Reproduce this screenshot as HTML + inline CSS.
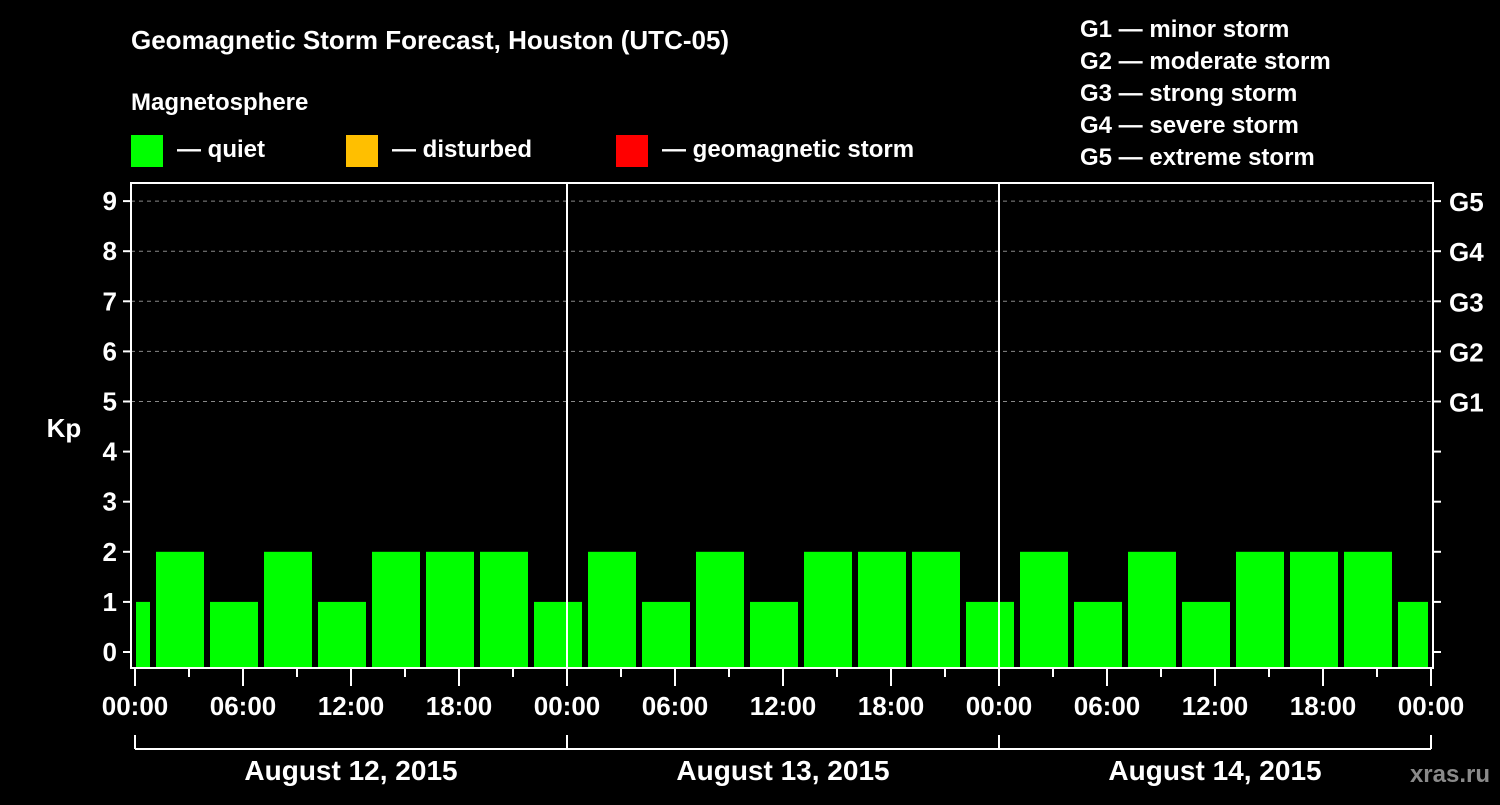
<!DOCTYPE html>
<html><head><meta charset="utf-8"><style>
body{margin:0;background:#000;width:1500px;height:800px;overflow:hidden}
svg text{font-family:"Liberation Sans",Arial,sans-serif;font-weight:bold;fill:#fff}
</style></head><body>
<svg id="c" width="1500" height="800" xmlns="http://www.w3.org/2000/svg">
<text x="131" y="49" font-size="26">Geomagnetic Storm Forecast, Houston (UTC-05)</text>
<text x="131" y="110" font-size="24">Magnetosphere</text>
<rect x="131" y="135" width="32" height="32" fill="#00ff00"/>
<text x="177" y="157" font-size="24">— quiet</text>
<rect x="346" y="135" width="32" height="32" fill="#ffbf00"/>
<text x="392" y="157" font-size="24">— disturbed</text>
<rect x="616" y="135" width="32" height="32" fill="#ff0000"/>
<text x="662" y="157" font-size="24">— geomagnetic storm</text>
<g font-size="24">
<text x="1080" y="37">G1 — minor storm</text>
<text x="1080" y="69">G2 — moderate storm</text>
<text x="1080" y="101">G3 — strong storm</text>
<text x="1080" y="133">G4 — severe storm</text>
<text x="1080" y="165">G5 — extreme storm</text>
</g>
<text x="64" y="437" font-size="26" text-anchor="middle">Kp</text>
<text x="1490" y="782" font-size="24" text-anchor="end" fill="#888" style="fill:#8a8a8a">xras.ru</text>
<g id="g"></g>
</svg>
<script>
const kpValues=[1,2,1,2,1,2,2,2,1,2,1,2,1,2,2,2,1,2,1,2,1,2,2,2,1];
const binStartHours=[-2,1,4,7,10,13,16,19,22,25,28,31,34,37,40,43,46,49,52,55,58,61,64,67,70];
const dayLabels=["August 12, 2015","August 13, 2015","August 14, 2015"];
const hourLabels=["00:00","06:00","12:00","18:00"];
const gLabels=["G1","G2","G3","G4","G5"];
const NS="http://www.w3.org/2000/svg";
const g=document.getElementById('g');
const X0=135,PX=18,Y0=652,PY=50.1,L=131,R=1433,T=183,B=668;
const xs=h=>X0+h*PX, ys=v=>Y0-v*PY;
function mk(t,a,p){const e=document.createElementNS(NS,t);for(const k in a)e.setAttribute(k,a[k]);(p||g).appendChild(e);return e;}
// grid
for(let v=5;v<=9;v++){const l=mk('line',{x1:L,x2:R,y1:ys(v),y2:ys(v),stroke:'#888','stroke-dasharray':'4,4','stroke-width':1});

}
// bars
kpValues.forEach((v,i)=>{let x1=xs(binStartHours[i])+3,x2=xs(binStartHours[i]+3)-3;x1=Math.max(x1,L+5);x2=Math.min(x2,R-5);
const col=v>=5?'#ff0000':(v>=4?'#ffbf00':'#00ff00');
const r=mk('rect',{x:x1,y:ys(v),width:x2-x1,height:B-1-ys(v),fill:col});

});
// day separators
[1,2].forEach(d=>{const l=mk('line',{x1:xs(24*d),x2:xs(24*d),y1:T,y2:B,stroke:'#fff','stroke-width':2});

});
// frame
const f=mk('rect',{x:L,y:T,width:R-L,height:B-T,fill:'none',stroke:'#fff','stroke-width':2});


// y ticks
for(let v=0;v<=9;v++){mk('line',{x1:L-8,x2:L,y1:ys(v),y2:ys(v),stroke:'#fff','stroke-width':2});
mk('line',{x1:R,x2:R+8,y1:ys(v),y2:ys(v),stroke:'#fff','stroke-width':2});
const t=mk('text',{x:L-14,y:ys(v)+9,'font-size':26,'text-anchor':'end'});t.textContent=v;

}
gLabels.forEach((s,i)=>{const t=mk('text',{x:R+16,y:ys(5+i)+10,'font-size':26});t.textContent=s;

});
// x ticks
for(let h=0;h<=72;h+=3){const major=h%6===0;mk('line',{x1:xs(h),x2:xs(h),y1:B,y2:B+(major?18:9),stroke:'#fff','stroke-width':2});
if(major){const t=mk('text',{x:xs(h),y:715,'font-size':26,'text-anchor':'middle'});t.textContent=hourLabels[(h/6)%4];

}}
// day brackets
mk('line',{x1:xs(0),x2:xs(72),y1:749,y2:749,stroke:'#fff','stroke-width':2});
for(let d=0;d<=3;d++)mk('line',{x1:xs(24*d),x2:xs(24*d),y1:735,y2:749,stroke:'#fff','stroke-width':2});
dayLabels.forEach((s,d)=>{const t=mk('text',{x:xs(24*d+12),y:780,'font-size':28,'text-anchor':'middle'});t.textContent=s;

});
</script>
</body></html>
